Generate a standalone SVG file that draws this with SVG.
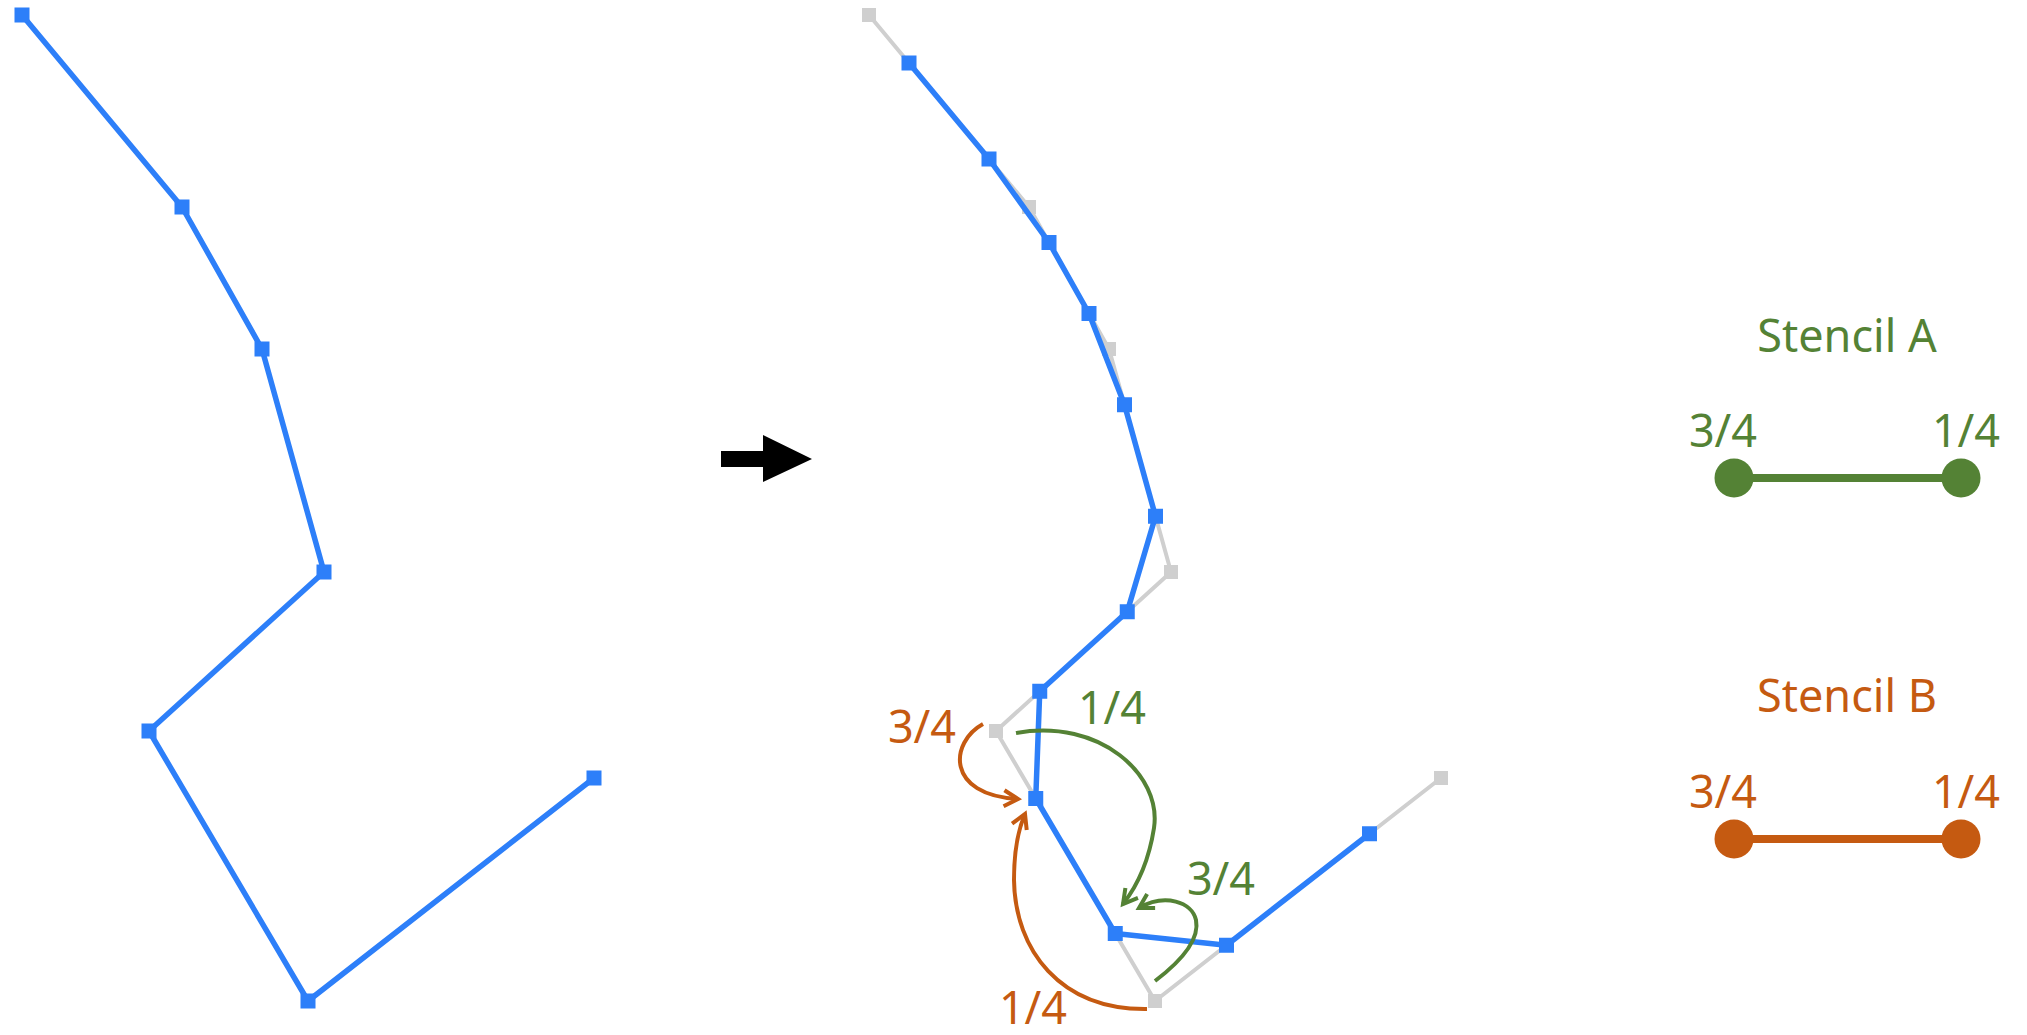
<svg xmlns="http://www.w3.org/2000/svg" xmlns:xlink="http://www.w3.org/1999/xlink" width="2027" height="1035" viewBox="0 0 2027 1035">
  <style>
    .blue-line { fill: none; stroke: #2d7ff9; stroke-width: 5.5; stroke-linejoin: round; }
    .gray-line { fill: none; stroke: #cfcfcf; stroke-width: 4; stroke-linejoin: round; }
    .lbl { font-family: "Noto Sans", "Open Sans", "Liberation Sans", sans-serif; font-size: 45px; text-anchor: middle; }
    .green { fill: #548235; }
    .orange { fill: #c55a11; }
    .arc-g { fill: none; stroke: #548235; stroke-width: 4; marker-end: url(#head-g); }
    .arc-o { fill: none; stroke: #c55a11; stroke-width: 4; marker-end: url(#head-o); }
  </style>
  <defs>
    <rect id="sq-blue" x="-7.5" y="-7.5" width="15" height="15" fill="#2d7ff9"/>
    <rect id="sq-gray" x="-7" y="-7" width="14" height="14" fill="#cfcfcf"/>
    <marker id="head-g" markerUnits="userSpaceOnUse" viewBox="0 0 22 22" markerWidth="22" markerHeight="22" refX="17" refY="11" orient="auto">
      <path d="M3,3 L17,11 L3,19" fill="none" stroke="#548235" stroke-width="4" stroke-linejoin="miter"/>
    </marker>
    <marker id="head-o" markerUnits="userSpaceOnUse" viewBox="0 0 22 22" markerWidth="22" markerHeight="22" refX="17" refY="11" orient="auto">
      <path d="M3,3 L17,11 L3,19" fill="none" stroke="#c55a11" stroke-width="4" stroke-linejoin="miter"/>
    </marker>
  </defs>

  <rect width="2027" height="1035" fill="#ffffff"/>

  <!-- control polygon before subdivision -->
  <g id="original-curve">
    <polyline class="blue-line" points="22,15 182,207 262,349 324,572 149,731 308,1001 594,778"/>
    <use xlink:href="#sq-blue" x="22" y="15"/>
    <use xlink:href="#sq-blue" x="182" y="207"/>
    <use xlink:href="#sq-blue" x="262" y="349"/>
    <use xlink:href="#sq-blue" x="324" y="572"/>
    <use xlink:href="#sq-blue" x="149" y="731"/>
    <use xlink:href="#sq-blue" x="308" y="1001"/>
    <use xlink:href="#sq-blue" x="594" y="778"/>
  </g>

  <!-- the same polygon, greyed, underneath the refined one -->
  <g id="previous-curve">
    <polyline class="gray-line" points="869,15 1029,207 1109,349 1171,572 996,731 1155,1001 1441,778"/>
    <use xlink:href="#sq-gray" x="869" y="15"/>
    <use xlink:href="#sq-gray" x="1029" y="207"/>
    <use xlink:href="#sq-gray" x="1109" y="349"/>
    <use xlink:href="#sq-gray" x="1171" y="572"/>
    <use xlink:href="#sq-gray" x="996" y="731"/>
    <use xlink:href="#sq-gray" x="1155" y="1001"/>
    <use xlink:href="#sq-gray" x="1441" y="778"/>
  </g>

  <!-- corner-cut polygon: 3/4 and 1/4 points of every edge -->
  <g id="subdivided-curve">
    <polyline class="blue-line" points="909,63 989,159 1049,242.5 1089,313.5 1124.5,404.75 1155.5,516.25 1127.25,611.75 1039.75,691.25 1035.75,798.5 1115.25,933.5 1226.5,945.25 1369.5,833.75"/>
    <use xlink:href="#sq-blue" x="909" y="63"/>
    <use xlink:href="#sq-blue" x="989" y="159"/>
    <use xlink:href="#sq-blue" x="1049" y="242.5"/>
    <use xlink:href="#sq-blue" x="1089" y="313.5"/>
    <use xlink:href="#sq-blue" x="1124.5" y="404.75"/>
    <use xlink:href="#sq-blue" x="1155.5" y="516.25"/>
    <use xlink:href="#sq-blue" x="1127.25" y="611.75"/>
    <use xlink:href="#sq-blue" x="1039.75" y="691.25"/>
    <use xlink:href="#sq-blue" x="1035.75" y="798.5"/>
    <use xlink:href="#sq-blue" x="1115.25" y="933.5"/>
    <use xlink:href="#sq-blue" x="1226.5" y="945.25"/>
    <use xlink:href="#sq-blue" x="1369.5" y="833.75"/>
  </g>

  <!-- stencil legends -->
  <g id="stencil-a">
    <text class="lbl green" x="1847" y="352">Stencil A</text>
    <text class="lbl green" x="1723" y="447">3/4</text>
    <text class="lbl green" x="1966" y="447">1/4</text>
    <line x1="1734" y1="478" x2="1961" y2="478" stroke="#548235" stroke-width="8"/>
    <circle cx="1734" cy="478" r="19.5" fill="#548235"/>
    <circle cx="1961" cy="478" r="19.5" fill="#548235"/>
  </g>
  <g id="stencil-b">
    <text class="lbl orange" x="1847" y="712">Stencil B</text>
    <text class="lbl orange" x="1723" y="808">3/4</text>
    <text class="lbl orange" x="1966" y="808">1/4</text>
    <line x1="1734" y1="839" x2="1961" y2="839" stroke="#c55a11" stroke-width="8"/>
    <circle cx="1734" cy="839" r="19.5" fill="#c55a11"/>
    <circle cx="1961" cy="839" r="19.5" fill="#c55a11"/>
  </g>

  <!-- connectors: transition arrow and stencil weight arrows -->
  <g id="connectors">
    <path d="M721,451 H763 V435 L812,459 L763,482 V467 H721 Z" fill="#000000"/>

    <path class="arc-o" d="M983,724 C950,742 945,795 1018,799"/>
    <text class="lbl orange" x="922" y="743">3/4</text>

    <path class="arc-o" d="M1147,1009 C1060,1010 1015,950 1014,880 C1014,850 1018,830 1025,814"/>
    <text class="lbl orange" x="1033" y="1024">1/4</text>

    <path class="arc-g" d="M1016,733 C1100,718 1162,775 1154,828 C1149,860 1138,885 1123,904"/>
    <text class="lbl green" x="1112" y="724">1/4</text>

    <path class="arc-g" d="M1155,981 C1180,962 1200,940 1196,920 C1192,902 1165,893 1139,908"/>
    <text class="lbl green" x="1221" y="895">3/4</text>
  </g>
</svg>
